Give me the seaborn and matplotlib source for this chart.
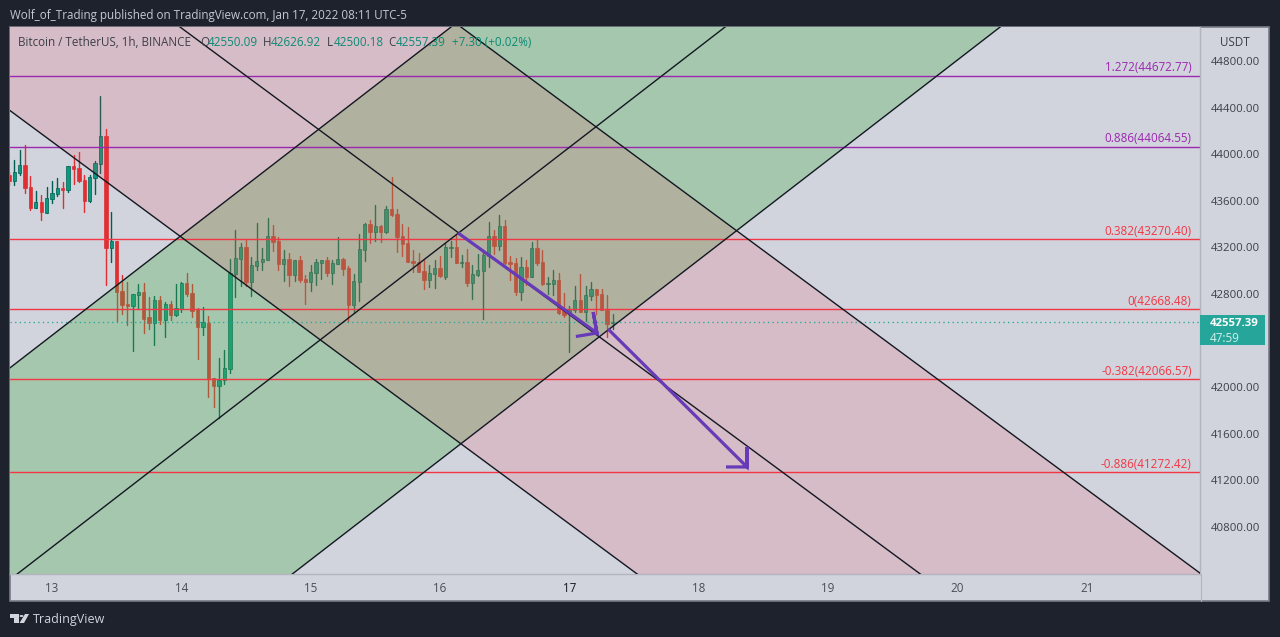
import pandas as pd
import seaborn as sns
import matplotlib.pyplot as plt
from matplotlib.lines import Line2D
from matplotlib.patches import Rectangle, Polygon, Circle

# hours counted from Jan 13 00:00, first candle is 8 hours earlier
first_hour = -8
opens = [43822, 43770, 43839, 43908, 43719, 43538, 43590, 43495, 43616, 43659, 43710, 43693, 43899, 43882, 43779, 43599,
         43796, 43916, 44157, 43195, 43255, 42826, 42715, 42697, 42792, 42817, 42603, 42551, 42749, 42577, 42715, 42620,
         42672, 42895, 42809, 42672, 42517, 42551, 42079, 42011, 42062, 42156, 42972, 43101, 43204, 42903, 43041, 43075,
         43092, 43298, 43255, 43058, 43101, 42963, 43092, 42929, 42903, 42981, 43066, 43092, 42981, 43058, 43101, 43023,
         42706, 42903, 43178, 43401, 43333, 43384, 43333, 43530, 43487, 43298, 43238, 43084, 43075, 42998, 42921, 42972,
         43023, 42946, 43195, 43204, 43066, 43075, 42895, 42963, 42998, 43126, 43298, 43212, 43384, 43075, 43066, 42817,
         43032, 42946, 43195, 43075, 42886, 42886, 42921, 42663, 42629, 42663, 42749, 42646, 42783, 42843, 42800, 42663,
         42550.09]
closes = [43770, 43847, 43908, 43710, 43538, 43590, 43504, 43624, 43667, 43710, 43693, 43899, 43873, 43770, 43599, 43805,
          43925, 44157, 43195, 43255, 42817, 42706, 42697, 42800, 42817, 42586, 42551, 42749, 42577, 42715, 42620, 42680,
          42895, 42800, 42654, 42517, 42560, 42071, 42011, 42062, 42165, 42981, 43109, 43204, 42903, 43049, 43084, 43101,
          43298, 43247, 43058, 43101, 42963, 43092, 42921, 42903, 42989, 43075, 43092, 42981, 43066, 43101, 43015, 42706,
          42912, 43186, 43401, 43333, 43384, 43333, 43530, 43478, 43290, 43229, 43075, 43066, 42989, 42921, 42981, 43023,
          42955, 43204, 43204, 43066, 43075, 42895, 42972, 43006, 43135, 43298, 43212, 43384, 43066, 43058, 42817, 43032,
          42946, 43195, 43066, 42886, 42895, 42921, 42637, 42620, 42663, 42749, 42646, 42792, 42843, 42792, 42663, 42543,
          42557.39]
highs = [43847, 43950, 44036, 44079, 43813, 43684, 43650, 43719, 43770, 43796, 43762, 43899, 43993, 44019, 43822, 43822,
         43942, 44500, 44217, 43504, 43255, 42963, 42903, 42800, 42886, 42895, 42775, 42783, 42783, 42732, 42740, 42886,
         42903, 42981, 42886, 42680, 42689, 42611, 42079, 42251, 42320, 43101, 43350, 43238, 43264, 43118, 43410, 43195,
         43453, 43393, 43290, 43178, 43152, 43092, 43126, 42963, 43049, 43101, 43092, 43118, 43092, 43290, 43109, 43041,
         42972, 43315, 43410, 43435, 43564, 43393, 43556, 43805, 43530, 43401, 43375, 43178, 43152, 43092, 43049, 43092,
         43126, 43238, 43255, 43315, 43135, 43186, 43049, 43144, 43178, 43418, 43350, 43478, 43435, 43126, 43109, 43118,
         43092, 43247, 43264, 43178, 42946, 43006, 42981, 42809, 42697, 42869, 42972, 42869, 42903, 42843, 42843, 42792,
         42626.92]
lows = [43736, 43736, 43822, 43667, 43521, 43538, 43435, 43495, 43581, 43641, 43538, 43676, 43745, 43762, 43504, 43590,
        43659, 43839, 42878, 43075, 42569, 42629, 42534, 42311, 42672, 42465, 42500, 42362, 42543, 42431, 42577, 42611,
        42646, 42783, 42603, 42242, 42448, 41916, 41830, 41736, 42028, 42122, 42775, 42869, 42869, 42783, 43006, 43006,
        43092, 43169, 43006, 42912, 42869, 42912, 42903, 42715, 42826, 42878, 42929, 42955, 42886, 43058, 42963, 42560,
        42637, 42740, 43084, 43238, 43255, 43247, 43324, 43470, 43161, 43126, 43075, 42989, 42989, 42843, 42860, 42852,
        42946, 42929, 43118, 43066, 43032, 42869, 42757, 42955, 42586, 43032, 43144, 43178, 43058, 42921, 42792, 42749,
        42878, 42946, 43049, 42878, 42800, 42792, 42629, 42603, 42302, 42646, 42646, 42569, 42749, 42629, 42663, 42431,
        42500.18]

fib_levels = [44672.77, 44064.55, 43270.40, 42668.48, 42066.57, 41272.42]
fib_names = ["1.272", "0.886", "0.382", "0", "-0.382", "-0.886"]
fib_colors = ["#9c27b0", "#9c27b0", "#f23645", "#f23645", "#f23645", "#f23645"]
last_price = 42557.39

# channel lines, price at both ends of line_hours
line_hours = [-10, 230]
up_top = [42087, 50669]
up_mid = [40269, 48851]
up_low = [38444, 47026]
down_top = [48028, 39822]
down_mid = [46246, 38040]
down_low = [44450, 36244]

# the two hand drawn arrows
arrow_a_hours = [75.33, 101.11, 100.4, 101.11, 97.2]
arrow_a_prices = [43324, 42465, 42645, 42465, 42435]
arrow_b_hours = [103.15, 128.94, 128.94, 128.94, 125.05]
arrow_b_prices = [42500, 41315, 41487, 41315, 41315]

price_ticks = [40800, 41200, 41600, 42000, 42800, 43200, 43600, 44000, 44400, 44800]
day_ticks = [0, 24, 48, 72, 96, 120, 144, 168, 192]
day_labels = ["13", "14", "15", "16", "17", "18", "19", "20", "21"]

BG = "#d1d4dc"
DARK = "#1e222d"
UP = "#089981"
UP_EDGE = "#005f52"
DOWN = "#e02f32"
TEXT = "#3c3f48"
TEAL = "#0b8a75"
AXIS_LINE = "#b2b5be"

W, H = 1280, 637

sns.set_theme(style="white")
plt.rcParams["font.family"] = ["Open Sans", "DejaVu Sans"]
plt.rcParams["font.size"] = 8.4

fig = plt.figure(figsize=(W / 100, H / 100), dpi=100, facecolor=DARK)
fig.add_artist(Rectangle((10 / W, 1 - 601 / H), 1259 / W, 574 / H, transform=fig.transFigure,
                         facecolor=BG, edgecolor="#787b86", lw=1.2, zorder=-1))
fig.add_artist(Line2D([1200.5 / W, 1200.5 / W], [1 - 574 / H, 1 - 601 / H], color=AXIS_LINE, lw=0.8))
ax = fig.add_axes([10 / W, 1 - 574 / H, 1190 / W, 547 / H], facecolor=BG)

# candles, they sit under the translucent channels
candles = pd.DataFrame({"open": opens, "close": closes, "high": highs, "low": lows})
candles["hour"] = range(first_hour, first_hour + len(candles))
rising = candles["close"] >= candles["open"]
candles["side"] = rising.map({True: "up", False: "down"})

wicks = candles.melt(id_vars=["hour", "side"], value_vars=["high", "low"], value_name="price")
sns.lineplot(data=wicks, x="hour", y="price", hue="side", units="hour", estimator=None,
             palette={"up": UP_EDGE, "down": DOWN}, lw=1, legend=False, zorder=1, ax=ax)
ax.bar(candles["hour"], (candles["close"] - candles["open"]).abs(),
       bottom=candles[["open", "close"]].min(axis=1), width=0.62,
       color=[UP if r else DOWN for r in rising],
       edgecolor=[UP_EDGE if r else DOWN for r in rising], lw=0.5, zorder=1.5)

# channels
ax.fill(line_hours + line_hours[::-1], up_top + up_low[::-1], color="#4caf50", alpha=0.33, lw=0, zorder=2)
ax.fill(line_hours + line_hours[::-1], down_top + down_low[::-1], color="#f44358", alpha=0.16, lw=0, zorder=2.1)

# fib levels and last price stay bright above the channels
for level, name, color in zip(fib_levels, fib_names, fib_colors):
    ax.axhline(level, color=color, lw=1, zorder=2.5)
    ax.annotate(f"{name}({level:.2f})", xy=(1, level), xycoords=ax.get_yaxis_transform(),
                xytext=(-6, 1), textcoords="offset points", ha="right", va="bottom",
                color=color, fontsize=8.4)
ax.axhline(last_price, color="#26a69a", lw=0.95, ls=(0, (1, 2.5)), zorder=2.5)

channel_lines = {"up_top": up_top, "up_mid": up_mid, "up_low": up_low,
                 "down_top": down_top, "down_mid": down_mid, "down_low": down_low}
rows = [{"name": k, "hour": h, "price": p} for k, v in channel_lines.items() for h, p in zip(line_hours, v)]
sns.lineplot(data=pd.DataFrame(rows), x="hour", y="price", units="name", estimator=None,
             color="#131722", lw=1, legend=False, zorder=3, ax=ax)

for xs, ys in [(arrow_a_hours, arrow_a_prices), (arrow_b_hours, arrow_b_prices)]:
    sns.lineplot(x=xs, y=ys, sort=False, estimator=None, color="#673ab7", lw=2.3, zorder=4, ax=ax,
                 solid_capstyle="butt", solid_joinstyle="miter")

ax.set_xlim(-7.79, 212.99)
ax.set_ylim(40396, 45092)
ax.set_xlabel("")
ax.set_ylabel("")
ax.yaxis.tick_right()
ax.set_yticks(price_ticks, [f"{p:.2f}" for p in price_ticks])
ax.set_xticks(day_ticks, day_labels)
ax.tick_params(axis="y", length=0, pad=7.5, labelsize=8.2, labelcolor=TEXT)
ax.tick_params(axis="x", length=0, pad=6, labelsize=8.4, labelcolor="#4a4d57")
ax.get_xticklabels()[4].set_color("#131722")
for side in ["top", "left"]:
    ax.spines[side].set_visible(False)
for side in ["right", "bottom"]:
    ax.spines[side].set_color(AXIS_LINE)
    ax.spines[side].set_linewidth(1)


def px_text(x, y, s, color=TEXT, **kw):
    fig.text(x / W, 1 - (y + 1) / H, s, color=color, va="center", fontsize=kw.pop("fontsize", 8.4), **kw)


px_text(10, 14, "Wolf_of_Trading published on TradingView.com, Jan 17, 2022 08:11 UTC-5", color="#c5c8d0")

# status line
px_text(18, 41, "Bitcoin / TetherUS, 1h, BINANCE")
for x, s in [(200, "O"), (263, "H"), (327, "L"), (388, "C")]:
    px_text(x, 41, s)
for x, s in [(208, "42550.09"), (271, "42626.92"), (334, "42500.18"), (396, "42557.39"), (452, "+7.30 (+0.02%)")]:
    px_text(x, 41, s, color=TEAL)

# price scale extras
px_text(1235, 42, "USDT", ha="center")
fig.add_artist(Rectangle((1200 / W, 1 - 345 / H), 65 / W, 30 / H, transform=fig.transFigure,
                         facecolor="#26a69a", edgecolor="none"))
px_text(1210, 323, "42557.39", color="white", fontweight="bold", fontsize=8.2)
px_text(1210, 337, "47:59", color="#d5efeb")

# footer logo
logo = "#d1d4dc"
logo_parts = [[(10, 614), (19, 614), (19, 623), (14, 623), (14, 618), (10, 618)],
              [(25, 614), (29, 614), (24, 623), (19.5, 623)]]
for pts in logo_parts:
    fig.add_artist(Polygon([(x / W, 1 - y / H) for x, y in pts], transform=fig.transFigure, facecolor=logo, edgecolor="none"))
fig.add_artist(Circle((21.5 / W, 1 - 616 / H), 2 / W, transform=fig.transFigure, facecolor=logo, edgecolor="none"))
px_text(33, 619, "TradingView", color="#d1d4dc", fontsize=9)

fig.savefig("out.png", dpi=100, facecolor=DARK)
